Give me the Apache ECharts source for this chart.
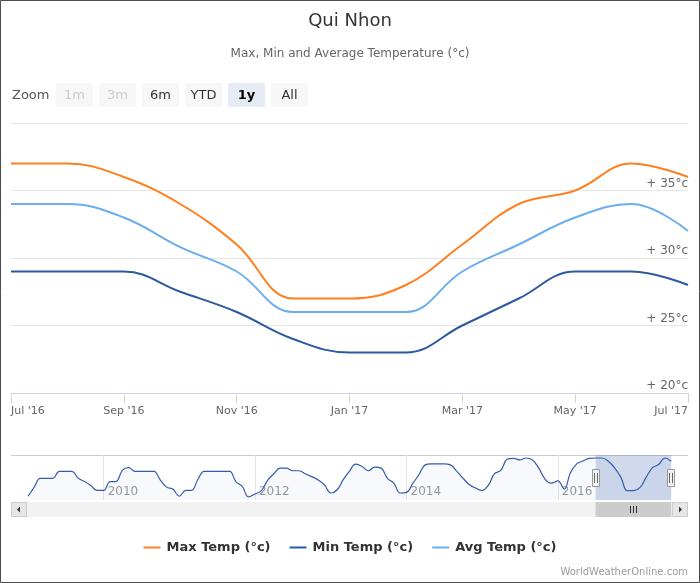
<!DOCTYPE html>
<html><head><meta charset="utf-8">
<script src="https://cdn.jsdelivr.net/npm/echarts@6/dist/echarts.min.js"></script>
<style>html,body{margin:0;padding:0;background:#fff}#c{width:700px;height:583px}</style>
</head><body><div id="c"></div>
<script>
// ---- data ----
const months = ["Jul '16","Aug '16","Sep '16","Oct '16","Nov '16","Dec '16","Jan '17","Feb '17","Mar '17","Apr '17","May '17","Jun '17","Jul '17"];
const maxTemp = [37,37,36,34,31,27,27,28,31,34,35,37,36];
const minTemp = [29,29,29,27.5,26,24,23,23,25,27,29,29,28];
const avgTemp = [34,34,33,30.8,29,26,26,26,29,31,33,34,32];
// navigator history of max temp, monthly from Jan 2009 to Jun 2016
const navHistory = [
 25.3,28.2,30.8,30.8,30.8,32.9,32.9,32.9,30.8,29.8,28.5,27.1,
 27.1,29.8,29.8,33.2,34.1,32.9,32.9,32.9,32.9,30.3,28.1,27.5,
 25.3,27.1,27.1,30.5,32.9,32.9,32.9,32.9,32.9,29.8,28.3,25.1,
 26.0,27.0,30.1,32.2,33.9,33.9,33.1,33.1,32.1,31.3,30.3,28.8,
 26.3,27.3,30.3,33.0,35.1,34.4,33.1,34.2,33.9,30.8,29.3,26.3,
 26.5,29.3,31.8,34.9,35.2,35.2,35.2,34.9,32.9,30.8,28.8,27.8,
 27.1,28.8,32.2,33.2,36.6,36.9,36.4,37.0,36.4,33.9,30.5,29.3,
 30.0,27.5,32.4,35.2,36.1,36.9
];
const navStart = [2009, 0];
const navYears = [2010, 2012, 2014, 2016];
const yTicks = {min: 20, max: 40, step: 5};
const zoomButtons = ['1m','3m','6m','YTD','1y','All'];
const disabledButtons = ['1m','3m'];
const selectedButton = '1y';
const selStart = Date.UTC(2016,6,1), selEnd = Date.UTC(2017,6,1);

const navData = navHistory.concat(maxTemp).map((v,i)=>[Date.UTC(navStart[0], navStart[1]+i, 1), v]);
const yearTicks = navYears.map(y=>Date.UTC(y,0,1));

const FONT = 'DejaVu Sans';
const chart = echarts.init(document.getElementById('c'));
chart.setOption({
  animation: false,
  textStyle: {fontFamily: FONT},
  title: {
    text: 'Qui Nhon', subtext: 'Max, Min and Average Temperature (°c)',
    left: 'center', top: 7, itemGap: 18,
    textStyle: {fontFamily: FONT, fontSize: 18, fontWeight: 'normal', color: '#333'},
    subtextStyle: {fontFamily: FONT, fontSize: 12, color: '#666'}
  },
  legend: {
    data: ['Max Temp (°c)','Min Temp (°c)','Avg Temp (°c)'],
    top: 536, left: 'center', icon: 'rect', itemWidth: 17, itemHeight: 2, itemGap: 19,
    textStyle: {fontFamily: FONT, fontSize: 13, fontWeight: 'bold', color: '#333', padding: [0,0,0,1]}
  },
  grid: [
    {left: 11, right: 12, top: 123, height: 270},
    {left: 11, right: 12, top: 455, height: 45}
  ],
  xAxis: [
    {type: 'category', gridIndex: 0, data: months, boundaryGap: false,
     axisLine: {lineStyle: {color: '#ccd6eb'}},
     axisTick: {interval: 1, length: 10, lineStyle: {color: '#ccd6eb'}},
     axisLabel: {interval: 1, color: '#666', fontSize: 11, margin: 13, alignMinLabel: 'left', alignMaxLabel: 'right'},
     splitLine: {show: false}},
    {type: 'value', gridIndex: 1, min: Date.UTC(2008,9,11), max: Date.UTC(2017,8,20),
     axisLine: {show: false},
     axisTick: {show: true, inside: true, length: 45, lineStyle: {color: '#e6e6e6'}, customValues: yearTicks},
     axisLabel: {inside: true, color: '#999', fontSize: 12, align: 'left', margin: 2, padding: [0,0,0,4],
       customValues: yearTicks, formatter: v => String(new Date(v).getUTCFullYear())},
     splitLine: {show: false}}
  ],
  yAxis: [
    {type: 'value', gridIndex: 0, min: yTicks.min, max: yTicks.max, interval: yTicks.step, position: 'right',
     axisLine: {show: false}, axisTick: {show: false},
     splitLine: {lineStyle: {color: '#e6e6e6'}},
     axisLabel: {inside: true, margin: 0, showMaxLabel: false, verticalAlign: 'bottom', padding: [0,0,1,0],
       color: '#666', fontSize: 12, formatter: '+ {value}°c'}},
    {type: 'value', gridIndex: 1, min: 24.16, max: 37.92, show: false}
  ],
  series: [
    {name: 'Max Temp (°c)', type: 'line', data: maxTemp, smooth: 0.4, symbol: 'none',
     color: '#ff7f1e', lineStyle: {width: 2}},
    {name: 'Min Temp (°c)', type: 'line', data: minTemp, smooth: 0.4, symbol: 'none',
     color: '#2c5aa0', lineStyle: {width: 2}},
    {name: 'Avg Temp (°c)', type: 'line', data: avgTemp, smooth: 0.4, symbol: 'none',
     color: '#6aaeef', lineStyle: {width: 2}},
    {name: 'nav', type: 'line', xAxisIndex: 1, yAxisIndex: 1, data: navData, smooth: 0.4, symbol: 'none',
     color: '#335cad', lineStyle: {width: 1.2}, areaStyle: {color: 'rgba(51,92,173,0.05)'},
     markArea: {silent: true, itemStyle: {color: 'rgba(102,133,194,0.3)'},
       data: [[{xAxis: selStart}, {xAxis: selEnd}]]}}
  ]
});

const a = chart.convertToPixel({gridIndex: 1}, [selStart, 30])[0];
const b = chart.convertToPixel({gridIndex: 1}, [selEnd, 30])[0];
const g = [];
g.push({type: 'rect', shape: {x: 0.5, y: 0.5, width: 699, height: 582}, style: {fill: 'none', stroke: '#4d4d4d', lineWidth: 1}, z: 100});
g.push({type: 'line', shape: {x1: 11, y1: 455.5, x2: 688, y2: 455.5}, style: {stroke: '#cccccc', lineWidth: 1}});
[a, b].forEach(x => {
  const cx = Math.round(x);
  g.push({type: 'rect', shape: {x: cx - 3.5, y: 469.5, width: 7, height: 17}, style: {fill: '#f2f2f2', stroke: '#999', lineWidth: 1}, z: 50});
  g.push({type: 'line', shape: {x1: cx - 1.5, y1: 473, x2: cx - 1.5, y2: 483}, style: {stroke: '#666', lineWidth: 1}, z: 51});
  g.push({type: 'line', shape: {x1: cx + 1.5, y1: 473, x2: cx + 1.5, y2: 483}, style: {stroke: '#666', lineWidth: 1}, z: 51});
});
g.push({type: 'rect', shape: {x: 11, y: 502, width: 677, height: 15}, style: {fill: '#f2f2f2'}});
g.push({type: 'rect', shape: {x: a, y: 502, width: b - a, height: 15}, style: {fill: '#cccccc'}});
const mid = Math.round((a + b) / 2);
[-3, 0, 3].forEach(d => g.push({type: 'line', shape: {x1: mid + d + 0.5, y1: 506, x2: mid + d + 0.5, y2: 513}, style: {stroke: '#333', lineWidth: 1}}));
g.push({type: 'rect', shape: {x: 11.5, y: 502.5, width: 15, height: 14}, style: {fill: '#e6e6e6', stroke: '#cccccc', lineWidth: 1}});
g.push({type: 'polygon', shape: {points: [[17, 509.5], [20, 506.5], [20, 512.5]]}, style: {fill: '#333'}});
g.push({type: 'rect', shape: {x: 672.5, y: 502.5, width: 15, height: 14}, style: {fill: '#e6e6e6', stroke: '#cccccc', lineWidth: 1}});
g.push({type: 'polygon', shape: {points: [[682, 509.5], [679, 506.5], [679, 512.5]]}, style: {fill: '#333'}});
g.push({type: 'text', x: 12, y: 96, style: {text: 'Zoom', font: '13px "DejaVu Sans"', fill: '#555', verticalAlign: 'middle'}});
zoomButtons.forEach((t, i) => {
  const x = 56 + i * 43;
  const sel = t === selectedButton, dis = disabledButtons.includes(t);
  g.push({type: 'rect', shape: {x: x, y: 83, width: 37, height: 24, r: 2}, style: {fill: sel ? '#e6ebf5' : '#f7f7f7'}});
  g.push({type: 'text', x: x + 18.5, y: 96, style: {text: t, font: (sel ? 'bold ' : '') + '13px "DejaVu Sans"',
    fill: dis ? '#cccccc' : (sel ? '#000' : '#333'), align: 'center', verticalAlign: 'middle'}});
});
g.push({type: 'text', right: 12, top: 567, style: {text: 'WorldWeatherOnline.com', font: '10px "DejaVu Sans"', fill: '#999'}});
chart.setOption({graphic: g});
</script></body></html>
